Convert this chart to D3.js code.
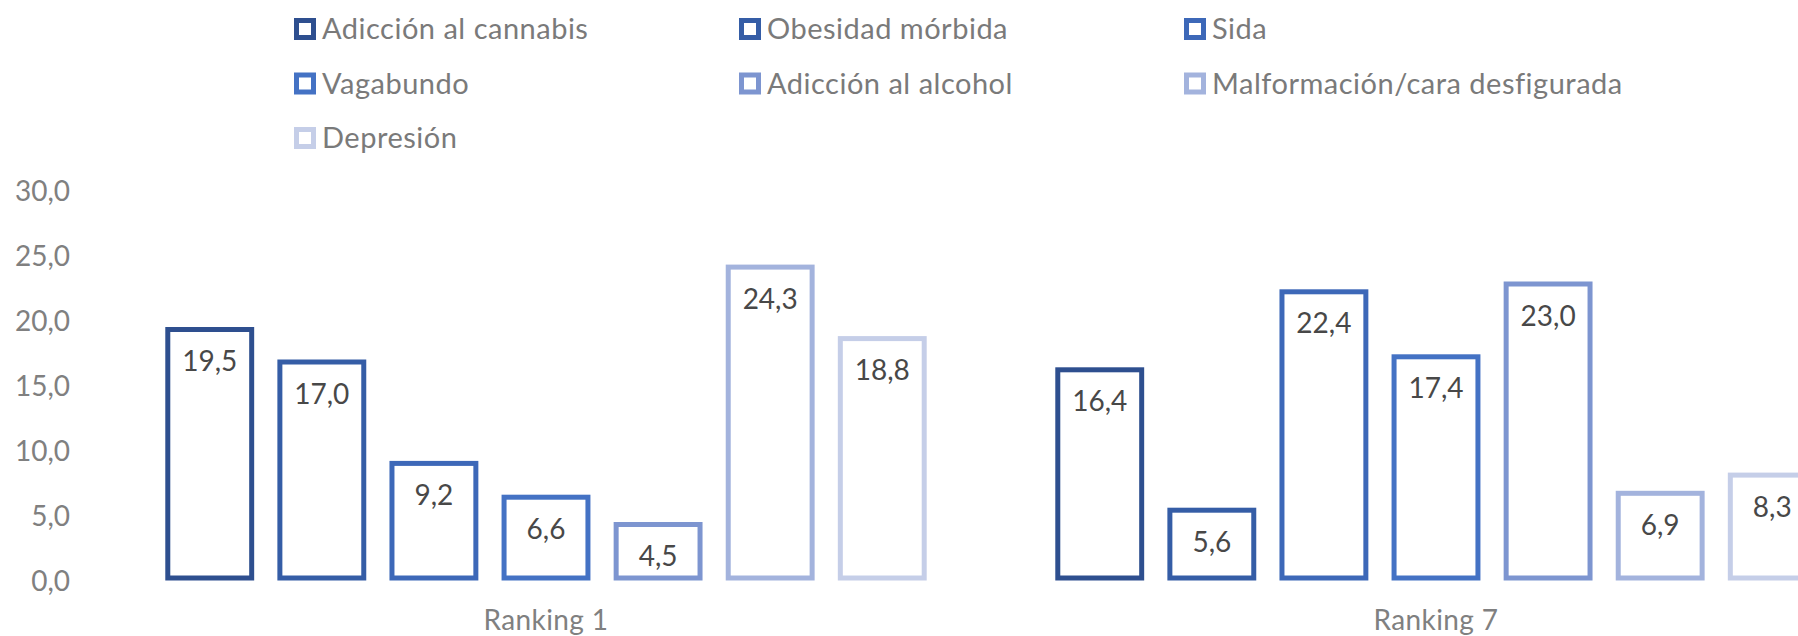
<!DOCTYPE html>
<html>
<head>
<meta charset="utf-8">
<script src="https://cdn.jsdelivr.net/npm/d3@7"></script>
<style>
  html, body { margin: 0; padding: 0; background: #fff; overflow: hidden; }
  svg { display: block; font-family: Lato, "Open Sans", sans-serif; }
</style>
</head>
<body>
<div id="chart"></div>
<script>
// datos (porcentaje por ranking)
const categories = ["Ranking 1", "Ranking 7"];
const series = [
  "Adicción al cannabis",
  "Obesidad mórbida",
  "Sida",
  "Vagabundo",
  "Adicción al alcohol",
  "Malformación/cara desfigurada",
  "Depresión"
];
const ranking1 = [19.5, 17.0, 9.2, 6.6, 4.5, 24.3, 18.8];
const ranking7 = [16.4, 5.6, 22.4, 17.4, 23.0, 6.9, 8.3];
const yTicks = [0, 5, 10, 15, 20, 25, 30];
const colors = ["#2e4f8f", "#355da6", "#3d68b8", "#4472c4", "#7d95d0", "#a3b3dd", "#c5cee8"];

const W = 1798, H = 636;
const values = { "Ranking 1": ranking1, "Ranking 7": ranking7 };

const fmt = d3.formatLocale({ decimal: ",", thousands: ".", grouping: [3], currency: ["", "€"] }).format(".1f");

const svg = d3.select("#chart").append("svg").attr("width", W).attr("height", H);

// la zona de trazado se sale por la derecha, como en la captura original
const x0 = d3.scaleBand().domain(categories).range([101, 1881]).padding(0);
const step = x0.bandwidth();
const x1 = d3.scaleBand().domain(series)
  .range([step * 0.0592, step * 0.9408])
  .paddingInner(0.207).paddingOuter(0.1035);
const y = d3.scaleLinear().domain([0, 30]).range([580.5, 190.5]);

const sw = 5;

// eje Y (solo etiquetas)
const gy = svg.append("g").attr("transform", "translate(70,0)")
  .call(d3.axisLeft(y).tickValues(yTicks).tickFormat(fmt).tickSize(0).tickPadding(0));
gy.select(".domain").remove();
gy.selectAll("text").attr("font-size", 28).attr("fill", "#808080")
  .attr("font-family", "Lato, sans-serif").attr("dy", "0.35em");

// eje X (etiquetas de categoría)
const gx = svg.append("g").attr("transform", "translate(0,630)")
  .call(d3.axisBottom(x0).tickSize(0).tickPadding(0));
gx.select(".domain").remove();
gx.selectAll("text").attr("font-size", 28).attr("fill", "#808080")
  .attr("font-family", "Lato, sans-serif").attr("dy", 0).attr("letter-spacing", 0.4);

// barras: solo contorno, trazo hacia dentro
const groups = svg.append("g").selectAll("g").data(categories).join("g")
  .attr("transform", (c) => `translate(${x0(c)},0)`);

const cells = groups.selectAll("g").data((c) => series.map((s, i) => ({ c, s, i, v: values[c][i] })))
  .join("g");

cells.append("rect")
  .attr("x", (d) => x1(d.s) + sw / 2)
  .attr("y", (d) => y(d.v) + sw / 2)
  .attr("width", x1.bandwidth() - sw)
  .attr("height", (d) => y(0) - y(d.v) - sw)
  .attr("fill", "#fff")
  .attr("stroke", (d) => colors[d.i])
  .attr("stroke-width", sw);

cells.append("text")
  .attr("x", (d) => x1(d.s) + x1.bandwidth() / 2)
  .attr("y", (d) => y(d.v) + 44)
  .attr("text-anchor", "middle")
  .attr("font-size", 28)
  .attr("fill", "#484848")
  .text((d) => fmt(d.v));

// leyenda en 3 columnas
const legend = svg.append("g");
const li = legend.selectAll("g").data(series).join("g")
  .attr("transform", (d, i) => `translate(${294 + (i % 3) * 445},${29 + Math.floor(i / 3) * 54.5})`);
li.append("rect")
  .attr("x", 2.5).attr("y", -8.5).attr("width", 17).attr("height", 17)
  .attr("fill", "#fff")
  .attr("stroke", (d, i) => colors[i])
  .attr("stroke-width", sw);
li.append("text")
  .attr("x", 28).attr("y", 0).attr("dy", "0.35em")
  .attr("font-size", 29)
  .attr("letter-spacing", 0.5)
  .attr("fill", "#7a7a7a")
  .text((d) => d);
</script>
</body>
</html>
